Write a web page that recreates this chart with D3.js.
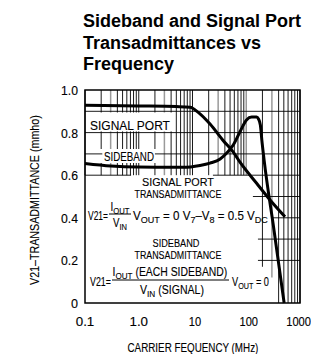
<!DOCTYPE html>
<html><head><meta charset="utf-8">
<script src="https://cdn.jsdelivr.net/npm/d3@7"></script>
<style>
body{margin:0;background:#fff;}
svg{display:block;}
text{font-family:"Liberation Sans","DejaVu Sans",sans-serif;fill:#000;}
g.ft text{stroke:#000;stroke-width:0.12px;}
.title{font-family:"Liberation Sans",Arial,Helvetica,sans-serif;font-weight:bold;font-size:18px;}
</style></head><body>
<svg id="c" width="311" height="354"></svg>
<script>
// ---- data ----
const freqTicks = [0.1, 1, 10, 100, 1000];
const freqTickLabels = ["0.1", "1.0", "10", "100", "1000"];
const yTicks = [0, 0.2, 0.4, 0.6, 0.8, 1.0];
const yTickLabels = ["0", "0.2", "0.4", "0.6", "0.8", "1.0"];
const signalFreq = [0.1, 1, 5, 9, 12.8, 21.2, 37.4, 57.4, 76.5, 156, 277, 526];
const signalVal  = [0.928, 0.925, 0.922, 0.919, 0.895, 0.840, 0.762, 0.708, 0.661, 0.562, 0.484, 0.405];
const sidebandFreq = [0.1, 0.305, 0.97, 6.65, 13.8, 21.2, 32.7, 43.4, 57.2, 76.5, 101, 126, 156, 169, 183, 195, 215, 328, 507];
const sidebandVal  = [0.655, 0.643, 0.638, 0.637, 0.646, 0.657, 0.676, 0.704, 0.742, 0.804, 0.859, 0.873, 0.873, 0.864, 0.836, 0.765, 0.671, 0.343, 0];
const titleLines = ["Sideband and Signal Port", "Transadmittances vs", "Frequency"];
const yTitle = "V21\u2013TRANSADMITTANCE (mmho)";
const xTitle = "CARRIER FEQUENCY (MHz)";

// ---- layout ----
const svg = d3.select("#c");
const L = 85, R = 300, T = 90, B = 303;
const x = d3.scaleLog().domain([0.1, 1000]).range([L, R]);
const y = d3.scaleLinear().domain([0, 1]).range([B, T]);

// fitted (horizontally compressed) rich text; parts: [text, isSub]
function fit(xp, yp, parts, size, width, anchor, rot) {
  const g = svg.append("g").attr("class", "ft");
  const t = g.append("text").attr("x", 0).attr("y", 0).attr("font-size", size);
  let cur = 0;
  parts.forEach(p => {
    const target = p[1] ? size * 0.28 : 0;
    const ts = t.append("tspan").text(p[0]).attr("dy", target - cur);
    if (p[1]) ts.attr("font-size", size * 0.78);
    cur = target;
  });
  const w = t.node().getComputedTextLength();
  const sx = width / w;
  const x0 = anchor === "middle" ? -width / 2 : anchor === "end" ? -width : 0;
  if (rot) g.attr("transform", `translate(${xp},${yp}) rotate(${rot}) translate(${x0},0) scale(${sx},1)`);
  else g.attr("transform", `translate(${xp + x0},${yp}) scale(${sx},1)`);
  return g;
}

// title
svg.append("g").selectAll("text").data(titleLines).join("text")
  .attr("class", "title").attr("x", 83).attr("y", (d, i) => 27 + i * 21.5).text(d => d);

// grid: vertical lines with value extents
const vLines = [];
for (let d = -1; d <= 2; d++) for (let k = 1; k <= 9; k++) vLines.push(k * Math.pow(10, d));
vLines.push(1000);
function vExtent(f) {
  if (f >= 390) return [0, 1];
  if (f >= 290) return [0.12, 1];
  if (f >= 190) return [0.17, 1];
  return [0.6, 1];
}
const grid = svg.append("g");
vLines.forEach(f => {
  const e = vExtent(f);
  const m = f / Math.pow(10, Math.floor(Math.log10(f) + 1e-9));
  const gray = Math.abs(m - 3) < 1e-6 || Math.abs(f - 100) < 1e-6;
  grid.append("line").attr("x1", x(f)).attr("x2", x(f)).attr("y1", y(e[0])).attr("y2", y(e[1]))
    .attr("stroke", gray ? "#9a9a9a" : "#000").attr("stroke-width", gray ? 1.5 : 0.9);
});
// masks behind label text (cover vertical grid)
const masks = svg.append("g").attr("fill", "#fff");
masks.append("rect").attr("x", L + 1).attr("y", y(0.9) + 1.2).attr("width", 172 - L).attr("height", y(0.8) - y(0.9) - 2.4);
masks.append("rect").attr("x", L + 1).attr("y", 149).attr("width", 158 - L).attr("height", 14);
// horizontal grid segments
const hLines = [
  {v: 0.9, seg: [[0.1, 1000]]},
  {v: 0.8, seg: [[0.1, 1000]]},
  {v: 0.7, seg: [[0.1, 0.21], [2.0, 1000]]},
  {v: 0.6, seg: [[0.1, 0.72], [24, 1000]]},
  {v: 0.5, seg: [[133, 1000]]},
  {v: 0.4, seg: [[300, 1000]]},
  {v: 0.3, seg: [[165, 1000]]},
  {v: 0.2, seg: [[165, 1000]]}
];
hLines.forEach(h => h.seg.forEach(s => {
  svg.append("line").attr("x1", x(s[0])).attr("x2", x(s[1])).attr("y1", y(h.v)).attr("y2", y(h.v))
    .attr("stroke", "#000").attr("stroke-width", 0.9);
}));

// frame
svg.append("rect").attr("x", L).attr("y", T).attr("width", R - L).attr("height", B - T)
  .attr("fill", "none").attr("stroke", "#000").attr("stroke-width", 1.5);

// axes tick labels
yTicks.forEach((d, i) => {
  const lab = yTickLabels[i];
  fit(78, y(d) + 5, [[lab]], 13, lab.length === 1 ? 7 : 17, "end");
});
freqTicks.forEach((d, i) => {
  const lab = freqTickLabels[i];
  const w = lab.length * 6.2;
  if (d >= 1000) fit(311, 326, [[lab]], 13, w, "end");
  else fit(x(d) + (d >= 10 ? 2.5 : 0), 326, [[lab]], 13, w, "middle");
});
fit(39, 200, [[yTitle]], 12, 170, "middle", -90);
fit(193, 351.5, [[xTitle]], 12.5, 131, "middle");

// in-plot labels
fit(90, 129.5, [["SIGNAL PORT"]], 13, 80);
fit(104, 161, [["SIDEBAND"]], 13, 50);

fit(178, 186, [["SIGNAL PORT"]], 11.5, 72, "middle");
fit(178, 197.5, [["TRANSADMITTANCE"]], 11.5, 87, "middle");
fit(88, 220, [["V21="]], 12, 20);
fit(120, 210.5, [["I"], ["OUT", 1]], 12, 19, "middle");
svg.append("line").attr("x1", 109).attr("x2", 131).attr("y1", 214).attr("y2", 214).attr("stroke", "#000").attr("stroke-width", 1);
fit(120, 226.5, [["V"], ["IN", 1]], 12, 14, "middle");
fit(133, 220, [["V"], ["OUT", 1], [" = 0  V"], ["7", 1], ["\u2013V"], ["8", 1], [" = 0.5  V"], ["DC", 1]], 12, 135);

fit(176, 247, [["SIDEBAND"]], 11.5, 47, "middle");
fit(178, 258.5, [["TRANSADMITTANCE"]], 11.5, 87, "middle");
fit(90, 285.5, [["V21="]], 12, 21);
fit(170, 275.5, [["I"], ["OUT", 1], [" (EACH  SIDEBAND)"]], 12, 115, "middle");
svg.append("line").attr("x1", 112).attr("x2", 229).attr("y1", 280).attr("y2", 280).attr("stroke", "#000").attr("stroke-width", 1);
fit(172, 293.5, [["V"], ["IN", 1], ["  (SIGNAL)"]], 12, 64, "middle");
fit(232, 286, [["V"], ["OUT", 1], [" = 0"]], 12, 37);

// curves
const line = d3.line().x(d => x(d[0])).y(d => y(d[1])).curve(d3.curveMonotoneX);
const sig = signalFreq.map((f, i) => [f, signalVal[i]]);
const sb = sidebandFreq.map((f, i) => [f, sidebandVal[i]]);
svg.append("path").attr("d", line(sig)).attr("fill", "none").attr("stroke", "#000").attr("stroke-width", 3);
svg.append("path").attr("d", line(sb)).attr("fill", "none").attr("stroke", "#000").attr("stroke-width", 3);
</script>
</body></html>
